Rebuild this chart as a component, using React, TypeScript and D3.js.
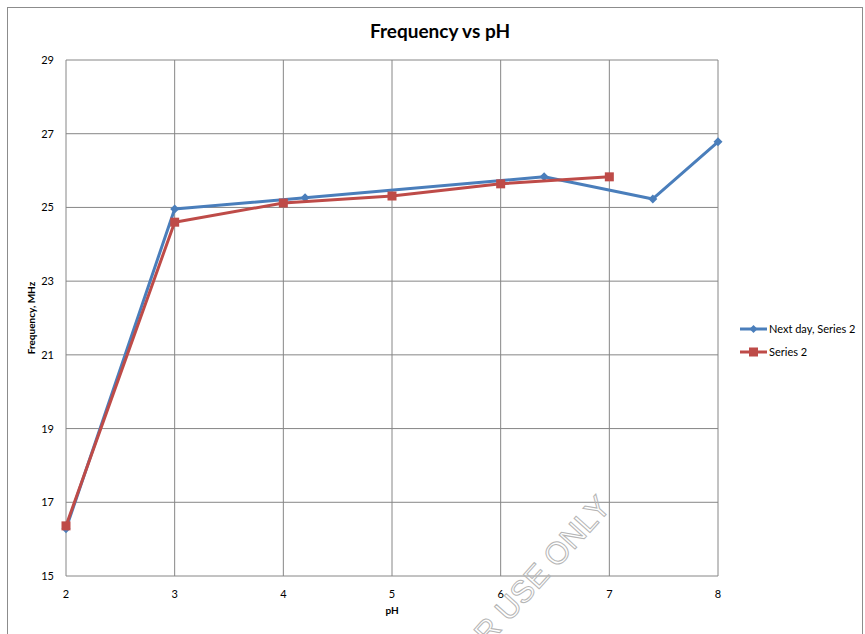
import React from "react";
import * as d3 from "d3";

const blueX = [2, 3, 4.2, 6.4, 7.4, 8];
const blueY = [16.28, 24.96, 25.26, 25.83, 25.23, 26.78];
const redX = [2, 3, 4, 5, 6, 7];
const redY = [16.36, 24.6, 25.12, 25.31, 25.64, 25.83];
const xTicks = [2, 3, 4, 5, 6, 7, 8];
const yTicks = [15, 17, 19, 21, 23, 25, 27, 29];
const seriesNames = ["Next day, Series 2", "Series 2"];

const BLUE = "#4A7EBB";
const RED = "#BE4B48";
const FONT = "Lato, 'Open Sans', sans-serif";

export default function App() {
  const W = 865, H = 634;
  const x = d3.scaleLinear().domain([2, 8]).range([66, 718]);
  const y = d3.scaleLinear().domain([15, 29]).range([576, 60]);
  const line = d3.line<[number, number]>().x(d => x(d[0])).y(d => y(d[1]));
  const blue: [number, number][] = blueX.map((v, i) => [v, blueY[i]]);
  const red: [number, number][] = redX.map((v, i) => [v, redY[i]]);
  const diamond = (cx: number, cy: number, r: number) =>
    `M${cx},${cy - r}L${cx + r},${cy}L${cx},${cy + r}L${cx - r},${cy}Z`;

  return (
    <svg width={W} height={H} style={{ position: "absolute", left: 0, top: 0 }} fontFamily={FONT}>
      <rect x={0} y={0} width={W} height={H} fill="#fff" />
      <rect x={7.5} y={7.5} width={855} height={640} fill="#fff" stroke="#8c8c8c" strokeWidth={1} />
      <text x={440} y={38} textAnchor="middle" fontSize={19} fontWeight="bold" fill="#000">Frequency vs pH</text>
      {/* grid */}
      {xTicks.map(t => (
        <line key={"gx" + t} x1={x(t)} x2={x(t)} y1={y(29)} y2={y(15)} stroke="#868686" strokeWidth={1} />
      ))}
      {yTicks.map(t => (
        <line key={"gy" + t} x1={x(2)} x2={x(8)} y1={y(t)} y2={y(t)} stroke="#868686" strokeWidth={1} />
      ))}
      {yTicks.map(t => (
        <text key={"ty" + t} x={54} y={y(t) + 4} textAnchor="end" fontSize={11} fill="#000">{t}</text>
      ))}
      {xTicks.map(t => (
        <text key={"tx" + t} x={x(t)} y={598} textAnchor="middle" fontSize={11} fill="#000">{t}</text>
      ))}
      <text x={392} y={614} textAnchor="middle" fontSize={10} fontWeight="bold">pH</text>
      <text transform="translate(35,318) rotate(-90)" textAnchor="middle" fontSize={10} fontWeight="bold">Frequency, MHz</text>
      {/* series */}
      <path d={line(blue) || ""} fill="none" stroke={BLUE} strokeWidth={3} strokeLinejoin="round" />
      {blue.map((d, i) => (
        <path key={"bm" + i} d={diamond(x(d[0]), y(d[1]), 4.5)} fill={BLUE} />
      ))}
      <path d={line(red) || ""} fill="none" stroke={RED} strokeWidth={3} strokeLinejoin="round" />
      {red.map((d, i) => (
        <rect key={"rm" + i} x={x(d[0]) - 4.5} y={y(d[1]) - 4.5} width={9} height={9} fill={RED} />
      ))}
      {/* legend */}
      <line x1={740} x2={767} y1={329} y2={329} stroke={BLUE} strokeWidth={3} />
      <path d={diamond(753.5, 329, 4)} fill={BLUE} />
      <text x={769} y={333} fontSize={11}>{seriesNames[0]}</text>
      <line x1={740} x2={767} y1={352} y2={352} stroke={RED} strokeWidth={3} />
      <rect x={749} y={347.5} width={9} height={9} fill={RED} />
      <text x={769} y={356} fontSize={11}>{seriesNames[1]}</text>
      {/* watermark */}
      <text transform="translate(612,508) rotate(-48)" textAnchor="end" fontSize={31} fill="none" stroke="#b5b5b5" strokeWidth={1} fontFamily="'Liberation Sans', sans-serif">FOR USE ONLY</text>
    </svg>
  );
}
